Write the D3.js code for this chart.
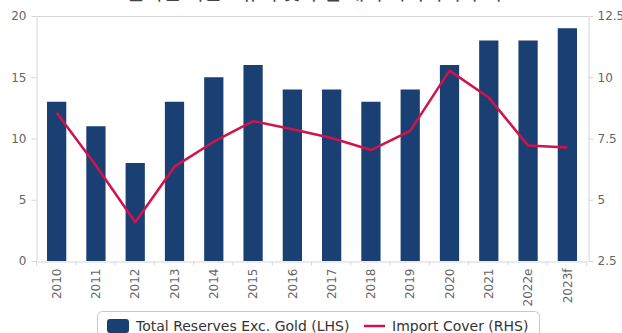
<!DOCTYPE html>
<html>
<head>
<meta charset="utf-8">
<script src="https://cdn.jsdelivr.net/npm/d3@7"></script>
<style>
  body { margin: 0; background: #fff; }
  text { font-family: "DejaVu Sans", sans-serif; }
</style>
</head>
<body>
<div id="chart"></div>
<script>
const years = ["2010", "2011", "2012", "2013", "2014", "2015", "2016", "2017", "2018", "2019", "2020", "2021", "2022e", "2023f"];
const reserves = [13, 11, 8, 13, 15, 16, 14, 14, 13, 14, 16, 18, 18, 19];
const importCover = [8.55, 6.4, 4.08, 6.35, 7.37, 8.21, 7.88, 7.52, 7.03, 7.81, 10.27, 9.17, 7.21, 7.13];
const leftTicks = [0, 5, 10, 15, 20];
const rightTicks = [2.5, 5, 7.5, 10, 12.5];
const title = "필리핀 외환보유액 및 수입 대비 커버리지 추이";

const width = 622, height = 333;
const plot = { left: 36, right: 588, top: 16, bottom: 261 };

let svg = d3.select("#chart").append("svg")
    .attr("width", width)
    .attr("height", height);

// x scale for years
let x = d3.scaleBand()
    .domain(years)
    .range([plot.left + 1, plot.right - 1])
    .paddingInner(0.51)
    .paddingOuter(0.255);
let yL = d3.scaleLinear().domain([0, 20]).range([plot.bottom, plot.top]);
let yR = d3.scaleLinear().domain([2.5, 12.5]).range([plot.bottom, plot.top]);

// title, mostly cut off at the top
svg.append("text")
    .attr("x", 314).attr("y", 0)
    .attr("text-anchor", "middle")
    .attr("font-size", 20)
    .attr("fill", "#444")
    .style("font-family", "'Noto Sans CJK KR', sans-serif")
    .text(title);

// top frame line
svg.append("line")
    .attr("x1", plot.left).attr("x2", plot.right)
    .attr("y1", plot.top + 0.5).attr("y2", plot.top + 0.5)
    .attr("stroke", "#d6d6d6");

// axes
let left = svg.append("g")
    .attr("transform", `translate(${plot.left + 0.5},0)`)
    .call(d3.axisLeft(yL).tickValues(leftTicks).tickSize(5).tickPadding(5).tickSizeOuter(0));
let right = svg.append("g")
    .attr("transform", `translate(${plot.right + 0.5},0)`)
    .call(d3.axisRight(yR).tickValues(rightTicks).tickFormat(d3.format("~g")).tickSize(5).tickPadding(4).tickSizeOuter(0));
let bottom = svg.append("g")
    .attr("transform", `translate(0,${plot.bottom + 0.5})`)
    .call(d3.axisBottom(x).tickSize(0).tickPadding(0));

// band boundary ticks under the x axis
bottom.selectAll(".sep").data(years.concat(["end"]))
    .enter().append("line")
    .attr("class", "sep")
    .attr("x1", (d, i) => plot.left + 0.5 + i * x.step())
    .attr("x2", (d, i) => plot.left + 0.5 + i * x.step())
    .attr("y1", 0).attr("y2", 4)
    .attr("stroke", "#d6d6d6");

bottom.selectAll(".tick text")
    .attr("transform", "rotate(-90)")
    .attr("text-anchor", "end")
    .attr("x", -7)
    .attr("y", 0)
    .attr("dy", "0.35em");

[left, right, bottom].forEach(g => {
    g.selectAll("path, line").attr("stroke", "#d6d6d6");
    g.selectAll("text").attr("fill", "#666").attr("font-size", 12)
        .style("font-family", "'DejaVu Sans', sans-serif");
});

// bars
svg.append("g").selectAll("rect").data(reserves)
    .enter().append("rect")
    .attr("x", (d, i) => x(years[i]))
    .attr("y", d => yL(d))
    .attr("width", x.bandwidth())
    .attr("height", d => yL(0) - yL(d))
    .attr("fill", "#193f73");

// import cover line
let line = d3.line()
    .x((d, i) => x(years[i]) + x.bandwidth() / 2)
    .y(d => yR(d));
svg.append("path")
    .datum(importCover)
    .attr("d", line)
    .attr("fill", "none")
    .attr("stroke", "#d2124c")
    .attr("stroke-width", 2.5)
    .attr("stroke-linejoin", "round");

// legend
let legend = svg.append("g");
legend.append("rect")
    .attr("x", 97.5).attr("y", 311.5)
    .attr("width", 442).attr("height", 40)
    .attr("rx", 5)
    .attr("fill", "#fff")
    .attr("stroke", "#c8c8c8");
legend.append("rect")
    .attr("x", 107).attr("y", 319)
    .attr("width", 22).attr("height", 14)
    .attr("rx", 3)
    .attr("fill", "#193f73");
legend.append("text")
    .attr("x", 136).attr("y", 331)
    .attr("font-size", 14).attr("fill", "#333")
    .text("Total Reserves Exc. Gold (LHS)");
legend.append("line")
    .attr("x1", 364).attr("x2", 385)
    .attr("y1", 326).attr("y2", 326)
    .attr("stroke", "#d2124c").attr("stroke-width", 2.5);
legend.append("text")
    .attr("x", 392).attr("y", 331)
    .attr("font-size", 14).attr("fill", "#333")
    .text("Import Cover (RHS)");
</script>
</body>
</html>
